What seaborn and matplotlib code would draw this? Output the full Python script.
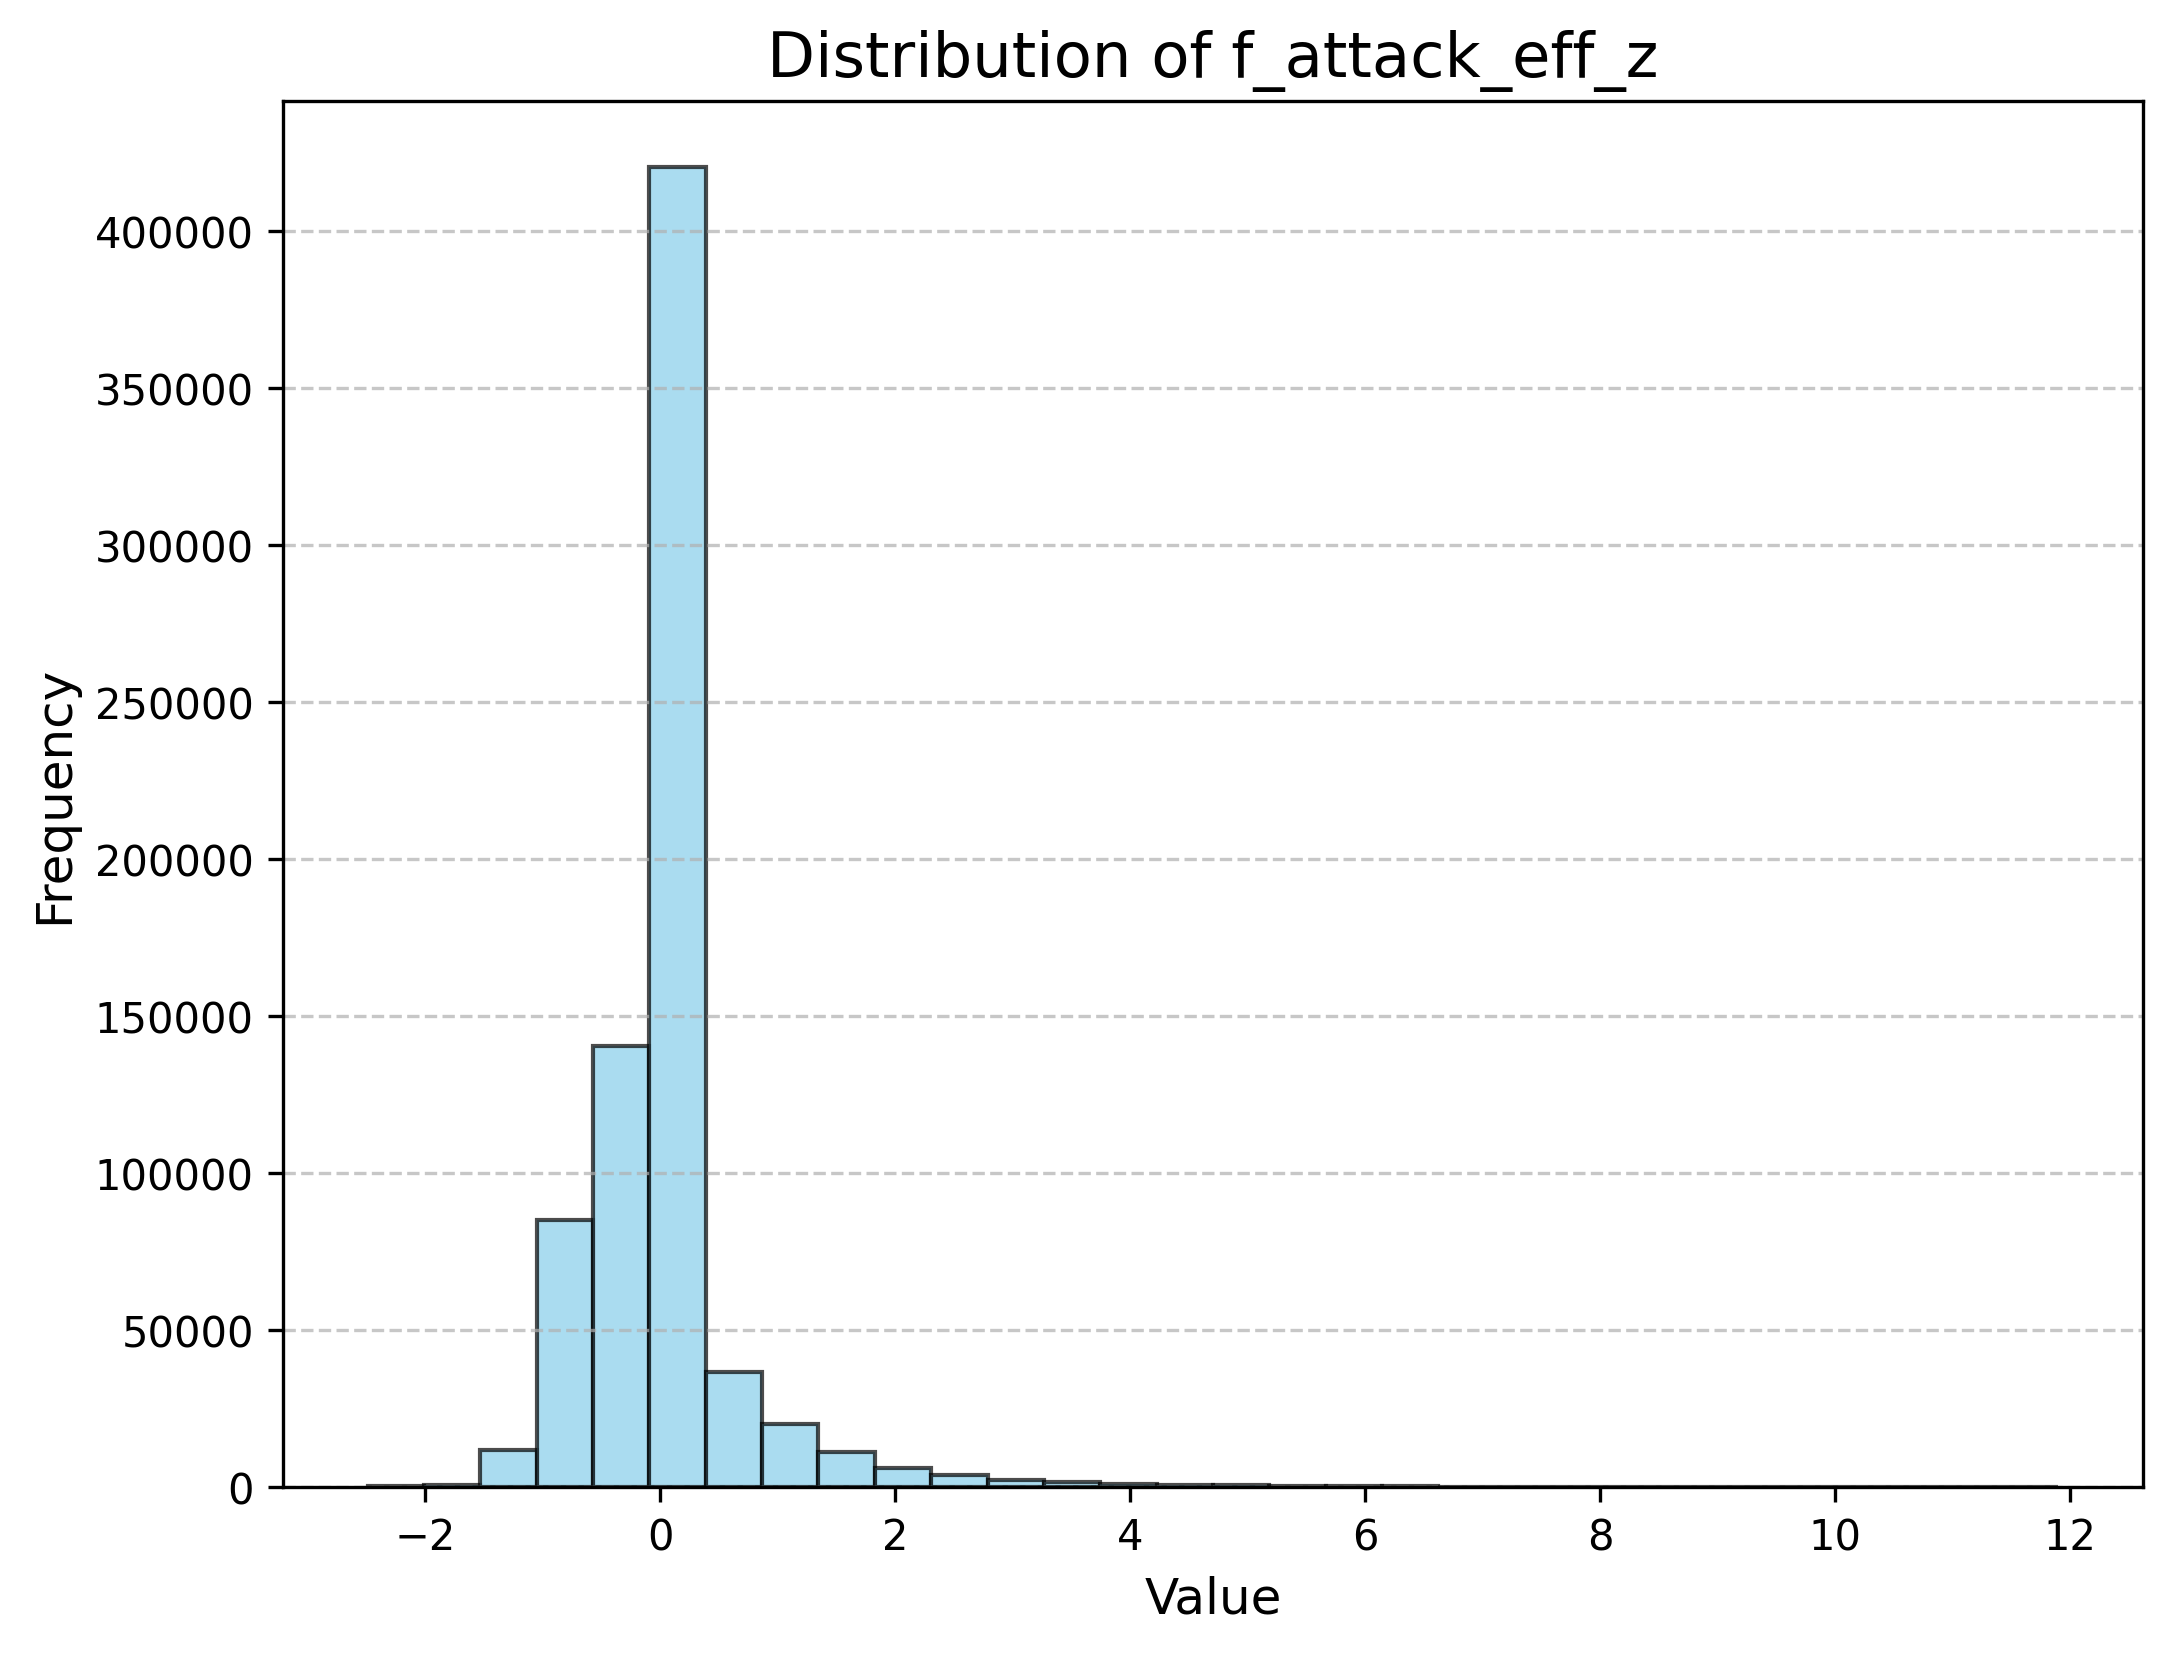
import numpy as np
import matplotlib
matplotlib.use("Agg")
import matplotlib.pyplot as plt
import seaborn as sns

# histogram: 30 bins between -2.49 and 11.9
bin_range = (-2.49, 11.9)
n_bins = 30
bin_centers = [-2.25, -1.77, -1.29, -0.81, -0.33, 0.15, 0.63, 1.11, 1.59, 2.07,
               2.55, 3.03, 3.51, 3.99, 4.47, 4.95, 5.43, 5.91, 6.39, 6.87,
               7.35, 7.83, 8.31, 8.79, 9.27, 9.75, 10.23, 10.71, 11.19, 11.67]
counts = [300, 750, 11700, 85200, 140600, 420300, 36600, 20200, 11240, 6200,
          3750, 2250, 1500, 960, 750, 640, 430, 400, 300, 80,
          50, 30, 20, 15, 10, 8, 5, 4, 3, 2]

plt.figure(figsize=(8, 6))
sns.histplot(x=bin_centers, weights=counts, bins=n_bins, binrange=bin_range,
             color='skyblue', edgecolor=(0, 0, 0, 0.7), alpha=0.7, linewidth=1)
plt.title('Distribution of f_attack_eff_z', fontsize=15)
plt.xlabel('Value', fontsize=12)
plt.ylabel('Frequency', fontsize=12)
plt.grid(axis='y', linestyle='--', alpha=0.7)
plt.savefig('out.png', dpi=300, bbox_inches='tight')
